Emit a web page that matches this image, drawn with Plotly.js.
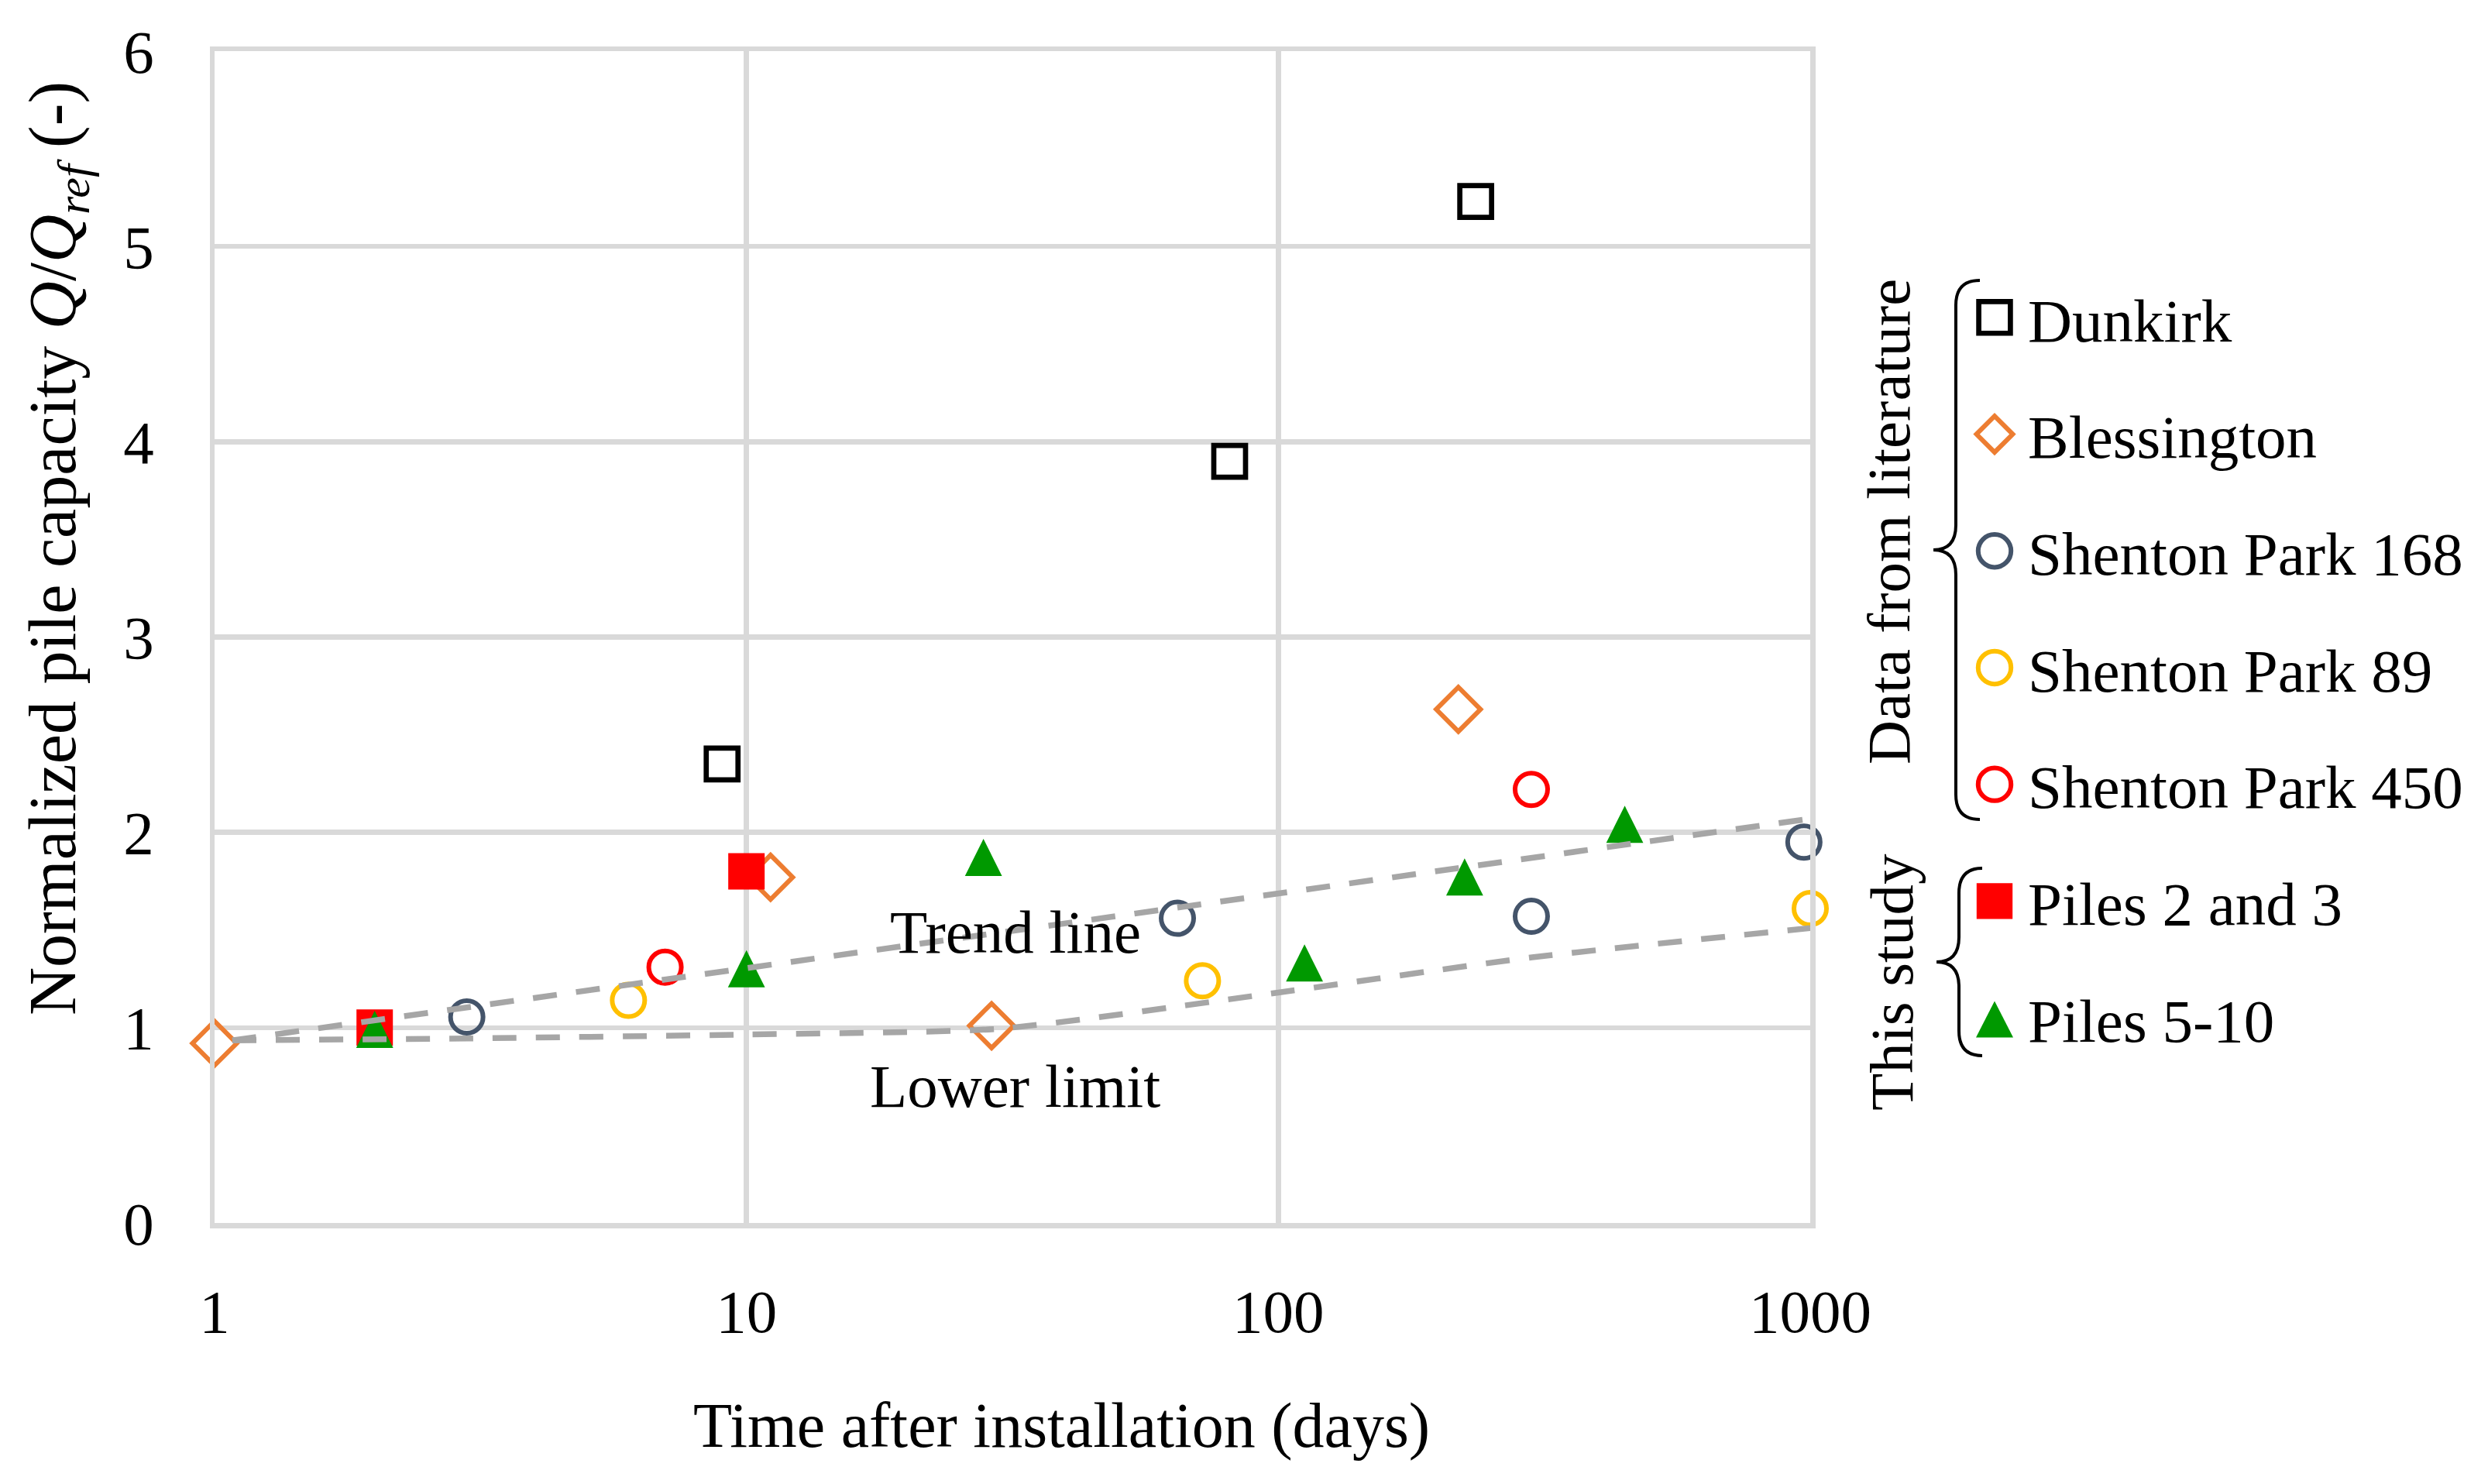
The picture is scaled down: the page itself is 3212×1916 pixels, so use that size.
<!DOCTYPE html>
<html><head><meta charset="utf-8">
<script src="https://cdn.plot.ly/plotly-3.0.1.min.js"></script>
<style>html,body{margin:0;padding:0;background:#fff}</style>
</head><body><div id="chart" style="width:3212px;height:1916px"></div>
<script>
// ---- data ----
const seriesNames = ['Dunkirk','Blessington','Shenton Park 168','Shenton Park 89','Shenton Park 450','Piles 2 and 3','Piles 5-10'];
const dunkirkX = [9, 81, 235];            const dunkirkY = [2.35, 3.90, 5.23];
const blessX   = [1, 11.1, 28.9, 218];    const blessY   = [0.92, 1.77, 1.01, 2.63];
const sp168X   = [2.98, 64.6, 299, 973];  const sp168Y   = [1.055, 1.56, 1.57, 1.95];
const sp89X    = [6.0, 72, 1000];         const sp89Y    = [1.14, 1.24, 1.61];
const sp450X   = [7.03, 299];             const sp450Y   = [1.31, 2.22];
const piles23X = [2, 10];                 const piles23Y = [1.0, 1.80];
const piles510X= [2, 10, 27.9, 112, 224, 448]; const piles510Y = [0.99, 1.30, 1.87, 1.33, 1.77, 2.04];
const trendX   = [1.08, 1000];            const trendY   = [0.935, 2.07];
const lowerX   = [1.08, 3, 10, 30, 100, 300, 1000];
const lowerY   = [0.935, 0.945, 0.965, 0.995, 1.18, 1.36, 1.51];
const xTickVals = [1, 10, 100, 1000];     const xTickText = ['1', '10', '100', '1000'];
const yTickVals = [0, 1, 2, 3, 4, 5, 6];

// ---- styling ----
const FONT = 'Liberation Serif, Times New Roman, serif';
const FS = 79;
const W = 3212, H = 1916;
const M = {l: 277, r: W - 2337, t: 66, b: H - 1579};
const PW = W - M.l - M.r, PH = H - M.t - M.b;
const px = x => (x - M.l) / PW;
const py = y => (H - M.b - y) / PH;

function mk(name, x, y, symbol, color, size, lw) {
  return {
    type: 'scatter', mode: 'markers', name: name, x: x, y: y,
    legendgroup: name, cliponaxis: false,
    marker: {symbol: symbol, size: size,
      color: lw > 0 ? 'rgba(255,255,255,0)' : color,
      line: {color: color, width: lw}}
  };
}
const traces = [
  mk(seriesNames[0], dunkirkX, dunkirkY, 'square', '#000000', 41, 6.7),
  mk(seriesNames[1], blessX, blessY, 'diamond', '#ED7D31', 44, 6),
  mk(seriesNames[2], sp168X, sp168Y, 'circle', '#44546A', 42, 6),
  mk(seriesNames[3], sp89X, sp89Y, 'circle', '#FFC000', 42, 6),
  mk(seriesNames[4], sp450X, sp450Y, 'circle', '#FF0000', 42, 6),
  mk(seriesNames[5], piles23X, piles23Y, 'square', '#FF0000', 47, 0),
  mk(seriesNames[6], piles510X, piles510Y, 'triangle-up', '#009900', 46, 0),
  {type: 'scatter', mode: 'lines', name: 'Trend line', x: trendX, y: trendY, showlegend: false,
   line: {color: '#A6A6A6', width: 7.5, dash: '31px,25px'}, hoverinfo: 'skip'},
  {type: 'scatter', mode: 'lines', name: 'Lower limit', x: lowerX, y: lowerY, showlegend: false,
   line: {color: '#A6A6A6', width: 7.5, dash: '31px,25px', shape: 'spline', smoothing: 0.6}, hoverinfo: 'skip'}
];

function brace(xEnd, xSpine, xTip, yTop, yBot) {
  const yMid = (yTop + yBot) / 2, c = 32;
  const P = (x, y) => px(x) + ',' + py(y);
  return 'M' + P(xEnd, yTop) +
    ' Q' + P(xSpine, yTop) + ' ' + P(xSpine, yTop + c) +
    ' L' + P(xSpine, yMid - c) +
    ' Q' + P(xSpine, yMid) + ' ' + P(xTip, yMid) +
    ' Q' + P(xSpine, yMid) + ' ' + P(xSpine, yMid + c) +
    ' L' + P(xSpine, yBot - c) +
    ' Q' + P(xSpine, yBot) + ' ' + P(xEnd, yBot);
}

const layout = {
  width: W, height: H, margin: M,
  paper_bgcolor: '#ffffff', plot_bgcolor: '#ffffff',
  font: {family: FONT, size: FS, color: '#000000'},
  showlegend: true,
  legend: {x: px(2532), xanchor: 'left', y: py(352), yanchor: 'top',
    itemwidth: 76, tracegroupgap: 45, traceorder: 'grouped',
    font: {family: FONT, size: FS, color: '#000'}, bgcolor: 'rgba(0,0,0,0)', borderwidth: 0},
  xaxis: {type: 'log', range: [0, 3], tickmode: 'array', tickvals: xTickVals, ticktext: xTickText,
    showgrid: true, gridcolor: '#D9D9D9', gridwidth: 6.5,
    showline: true, mirror: true, linecolor: '#D9D9D9', linewidth: 6.5,
    zeroline: false, ticks: '', ticklabelstandoff: 40,
    tickfont: {family: FONT, size: FS, color: '#000'}, fixedrange: true},
  yaxis: {range: [0, 6], tickmode: 'array', tickvals: yTickVals,
    showgrid: true, gridcolor: '#D9D9D9', gridwidth: 6.5,
    showline: true, mirror: true, linecolor: '#D9D9D9', linewidth: 6.5,
    zeroline: false, ticks: '', ticklabelstandoff: 56,
    tickfont: {family: FONT, size: FS, color: '#000'}, fixedrange: true},
  annotations: [
    {xref: 'paper', yref: 'paper', x: px(1370), y: py(1840), xanchor: 'center', yanchor: 'middle',
     showarrow: false, text: 'Time after installation (days)', font: {family: FONT, size: 82}},
    {xref: 'paper', yref: 'paper', x: px(74), y: py(708), xanchor: 'center', yanchor: 'middle',
     showarrow: false, textangle: -90,
     text: 'Normalized pile capacity <i>Q</i>/<i>Q<sub>ref</sub></i> (-)', font: {family: FONT, size: 86}},
    {xref: 'x', yref: 'y', x: Math.log10(32), y: 1.49, xanchor: 'center', yanchor: 'middle',
     showarrow: false, text: 'Trend line', font: {family: FONT, size: FS}},
    {xref: 'x', yref: 'y', x: Math.log10(32), y: 0.70, xanchor: 'center', yanchor: 'middle',
     showarrow: false, text: 'Lower limit', font: {family: FONT, size: FS}},
    {xref: 'paper', yref: 'paper', x: px(2438), y: py(674), xanchor: 'center', yanchor: 'middle',
     showarrow: false, textangle: -90, text: 'Data from literature', font: {family: FONT, size: FS}},
    {xref: 'paper', yref: 'paper', x: px(2442), y: py(1268), xanchor: 'center', yanchor: 'middle',
     showarrow: false, textangle: -90, text: 'This study', font: {family: FONT, size: FS}}
  ],
  shapes: [
    {type: 'path', xref: 'paper', yref: 'paper', path: brace(2556, 2525, 2496, 362, 1058),
     line: {color: '#000', width: 4}, fillcolor: 'rgba(0,0,0,0)'},
    {type: 'path', xref: 'paper', yref: 'paper', path: brace(2559, 2529, 2500, 1121, 1363),
     line: {color: '#000', width: 4}, fillcolor: 'rgba(0,0,0,0)'}
  ]
};

// legend symbol scale [sx, sy] per legend entry (Plotly caps legend markers at 16px)
const legendScale = [[2.55, 2.55], [2.25, 2.25], [2.65, 2.65], [2.65, 2.65], [2.65, 2.65], [2.9, 2.9], [2.6, 3.9]];
const legendStroke = [6.7, 6, 6, 6, 6, 0, 0];
Plotly.newPlot('chart', traces, layout, {displayModeBar: false, staticPlot: true}).then(gd => {
  gd.querySelectorAll('.legend .traces').forEach((g, i) => {
    const k = legendScale[i] || [2.6, 2.6];
    g.querySelectorAll('.legendpoints path.scatterpts').forEach(p => {
      const t = p.getAttribute('transform') || '';
      p.setAttribute('transform', t + ' scale(' + k[0] + ',' + k[1] + ') translate(0,' + (i === 6 ? 2.5 : 0) + ')');
      p.style.vectorEffect = 'non-scaling-stroke';
      if (legendStroke[i]) p.style.strokeWidth = legendStroke[i] + 'px';
    });
  });
  // reshape the triangle markers to the taller Excel-style triangle
  const tri = gd.querySelectorAll('.scatterlayer .trace')[6];
  if (tri) tri.querySelectorAll('path.point').forEach(p => {
    const t = p.getAttribute('transform') || '';
    p.setAttribute('transform', t + ' scale(0.9,1.39) translate(0,5.5)');
  });
});
</script>
</body></html>
